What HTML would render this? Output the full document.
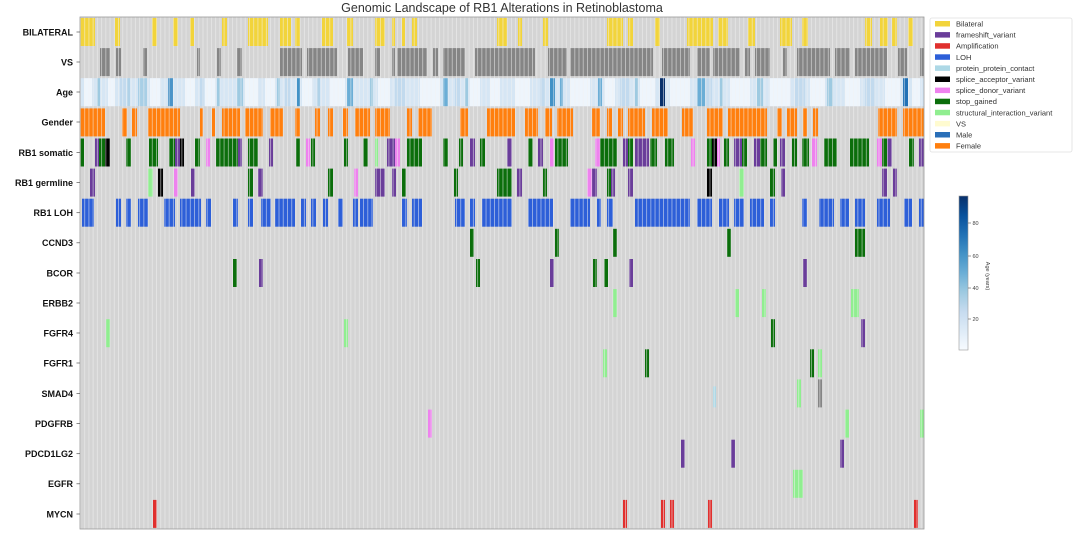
<!DOCTYPE html>
<html><head><meta charset="utf-8">
<style>
html,body{margin:0;padding:0;background:#fff;}
svg{display:block;font-family:"Liberation Sans",sans-serif;}
.y{fill:#f2d43b}.v{fill:#858585}.o{fill:#ff7f0e}.g{fill:#0b6e0b}.p{fill:#6a3d9a}.k{fill:#000}.pk{fill:#ee82ee}.lg{fill:#90ee90}.b{fill:#2d5fd8}.r{fill:#e0302e}.lb{fill:#add8e6}
.lab{font-size:9px;font-weight:bold;fill:#111;text-anchor:end}
.leg{font-size:7.5px;fill:#333}
</style></head><body>
<svg width="1080" height="540" viewBox="0 0 1080 540" xmlns="http://www.w3.org/2000/svg">
<defs>
<pattern id="grid" x="80" y="0" width="4.225" height="540" patternUnits="userSpaceOnUse">
<rect x="0" y="0" width="0.9" height="540" fill="#f2f2f2"/>
</pattern>
<linearGradient id="blues" x1="0" y1="1" x2="0" y2="0">
<stop offset="0" stop-color="#f7fbff"/><stop offset=".125" stop-color="#deebf7"/><stop offset=".25" stop-color="#c6dbef"/><stop offset=".375" stop-color="#9ecae1"/><stop offset=".5" stop-color="#6baed6"/><stop offset=".625" stop-color="#4292c6"/><stop offset=".75" stop-color="#2171b5"/><stop offset=".875" stop-color="#08519c"/><stop offset="1" stop-color="#08306b"/>
</linearGradient>
</defs>
<rect width="1080" height="540" fill="#fff"/>
<text x="502" y="12" font-size="12.5" fill="#333" text-anchor="middle">Genomic Landscape of RB1 Alterations in Retinoblastoma</text>
<rect x="80" y="17" width="844" height="512" fill="#d4d4d4"/>

<!-- Row 0 BILATERAL -->
<g transform="translate(0,17)" class="y">
<rect x="80" y="1" width="15" height="28"/><rect x="115" y="1" width="5" height="28"/><rect x="152" y="1" width="5" height="28"/><rect x="173" y="1" width="5" height="28"/><rect x="190" y="1" width="4" height="28"/><rect x="222" y="1" width="5" height="28"/><rect x="248" y="1" width="20" height="28"/><rect x="280" y="1" width="11" height="28"/><rect x="295" y="1" width="5" height="28"/><rect x="322" y="1" width="11" height="28"/><rect x="347" y="1" width="6" height="28"/><rect x="375" y="1" width="10" height="28"/><rect x="392" y="1" width="3" height="28"/><rect x="402" y="1" width="3" height="28"/><rect x="412" y="1" width="5" height="28"/><rect x="497" y="1" width="10" height="28"/><rect x="518" y="1" width="4" height="28"/><rect x="543" y="1" width="5" height="28"/><rect x="607" y="1" width="16" height="28"/><rect x="628" y="1" width="5" height="28"/><rect x="655" y="1" width="5" height="28"/><rect x="687" y="1" width="26" height="28"/><rect x="718" y="1" width="10" height="28"/><rect x="748" y="1" width="7" height="28"/><rect x="780" y="1" width="12" height="28"/><rect x="802" y="1" width="6" height="28"/><rect x="865" y="1" width="7" height="28"/><rect x="880" y="1" width="8" height="28"/><rect x="892" y="1" width="5" height="28"/><rect x="908" y="1" width="5" height="28"/>
</g>
<!-- Row 1 VS -->
<g transform="translate(0,47.1)" class="v">
<rect x="100" y="1" width="10" height="28"/><rect x="116" y="1" width="5" height="28"/><rect x="143" y="1" width="4" height="28"/><rect x="197" y="1" width="3" height="28"/><rect x="217" y="1" width="4" height="28"/><rect x="237" y="1" width="5" height="28"/><rect x="280" y="1" width="22" height="28"/><rect x="307" y="1" width="30" height="28"/><rect x="348" y="1" width="15" height="28"/><rect x="375" y="1" width="5" height="28"/><rect x="392" y="1" width="3" height="28"/><rect x="397" y="1" width="30" height="28"/><rect x="433" y="1" width="5" height="28"/><rect x="443" y="1" width="22" height="28"/><rect x="475" y="1" width="60" height="28"/><rect x="548" y="1" width="19" height="28"/><rect x="570" y="1" width="83" height="28"/><rect x="662" y="1" width="28" height="28"/><rect x="697" y="1" width="13" height="28"/><rect x="713" y="1" width="27" height="28"/><rect x="745" y="1" width="5" height="28"/><rect x="755" y="1" width="15" height="28"/><rect x="783" y="1" width="4" height="28"/><rect x="797" y="1" width="33" height="28"/><rect x="835" y="1" width="15" height="28"/><rect x="855" y="1" width="32" height="28"/><rect x="898" y="1" width="9" height="28"/><rect x="920" y="1" width="4" height="28"/>
</g>
<!-- Row 2 Age -->
<g transform="translate(0,77.2)">
<rect x="80" y="1" width="844" height="28" fill="#d6e6f4"/>
<g fill="#eef5fc">
<rect x="84" y="1" width="8" height="28"/><rect x="108" y="1" width="7" height="28"/><rect x="150" y="1" width="10" height="28"/><rect x="185" y="1" width="10" height="28"/><rect x="205" y="1" width="10" height="28"/><rect x="245" y="1" width="13" height="28"/><rect x="265" y="1" width="10" height="28"/><rect x="302" y="1" width="10" height="28"/><rect x="330" y="1" width="15" height="28"/><rect x="378" y="1" width="12" height="28"/><rect x="420" y="1" width="20" height="28"/><rect x="470" y="1" width="10" height="28"/><rect x="490" y="1" width="10" height="28"/><rect x="515" y="1" width="15" height="28"/><rect x="570" y="1" width="20" height="28"/><rect x="605" y="1" width="10" height="28"/><rect x="640" y="1" width="15" height="28"/><rect x="670" y="1" width="20" height="28"/><rect x="730" y="1" width="20" height="28"/><rect x="770" y="1" width="20" height="28"/><rect x="810" y="1" width="15" height="28"/><rect x="845" y="1" width="15" height="28"/><rect x="885" y="1" width="15" height="28"/><rect x="912" y="1" width="8" height="28"/>
</g>
<g fill="#c2daee">
<rect x="120" y="1" width="6" height="28"/><rect x="200" y="1" width="4" height="28"/><rect x="285" y="1" width="5" height="28"/><rect x="395" y="1" width="10" height="28"/><rect x="455" y="1" width="5" height="28"/><rect x="540" y="1" width="5" height="28"/><rect x="620" y="1" width="10" height="28"/><rect x="705" y="1" width="7" height="28"/><rect x="795" y="1" width="10" height="28"/><rect x="865" y="1" width="10" height="28"/>
</g>
<rect x="97" y="1" width="3" height="28" fill="#9ecae1"/><rect x="127" y="1" width="3" height="28" fill="#b0d2e8"/><rect x="138" y="1" width="9" height="28" fill="#a8cfe6"/><rect x="168" y="1" width="5" height="28" fill="#4a94c8"/><rect x="217" y="1" width="3" height="28" fill="#9ecae1"/><rect x="237" y="1" width="6" height="28" fill="#9ecae1"/><rect x="277" y="1" width="3" height="28" fill="#9ecae1"/><rect x="297" y="1" width="3" height="28" fill="#4292c6"/><rect x="317" y="1" width="3" height="28" fill="#b0d2e8"/><rect x="347" y="1" width="6" height="28" fill="#6baed6"/><rect x="370" y="1" width="3" height="28" fill="#9ecae1"/><rect x="443" y="1" width="5" height="28" fill="#6baed6"/><rect x="465" y="1" width="3" height="28" fill="#9ecae1"/><rect x="550" y="1" width="5" height="28" fill="#4292c6"/><rect x="560" y="1" width="3" height="28" fill="#6baed6"/><rect x="598" y="1" width="4" height="28" fill="#6baed6"/><rect x="635" y="1" width="3" height="28" fill="#9ecae1"/><rect x="660" y="1" width="5" height="28" fill="#08306b"/><rect x="697" y="1" width="8" height="28" fill="#6baed6"/><rect x="720" y="1" width="3" height="28" fill="#9ecae1"/><rect x="757" y="1" width="6" height="28" fill="#9ecae1"/><rect x="827" y="1" width="6" height="28" fill="#9ecae1"/><rect x="903" y="1" width="5" height="28" fill="#2171b5"/>
</g>
<!-- Row 3 Gender -->
<g transform="translate(0,107.4)" class="o">
<rect x="80" y="1" width="25" height="28"/><rect x="122" y="1" width="5" height="28"/><rect x="132" y="1" width="5" height="28"/><rect x="148" y="1" width="32" height="28"/><rect x="200" y="1" width="3" height="28"/><rect x="212" y="1" width="3" height="28"/><rect x="222" y="1" width="18" height="28"/><rect x="245" y="1" width="18" height="28"/><rect x="270" y="1" width="13" height="28"/><rect x="295" y="1" width="5" height="28"/><rect x="315" y="1" width="5" height="28"/><rect x="328" y="1" width="5" height="28"/><rect x="343" y="1" width="5" height="28"/><rect x="355" y="1" width="15" height="28"/><rect x="375" y="1" width="15" height="28"/><rect x="407" y="1" width="5" height="28"/><rect x="418" y="1" width="14" height="28"/><rect x="460" y="1" width="8" height="28"/><rect x="487" y="1" width="28" height="28"/><rect x="525" y="1" width="13" height="28"/><rect x="545" y="1" width="7" height="28"/><rect x="557" y="1" width="16" height="28"/><rect x="592" y="1" width="8" height="28"/><rect x="607" y="1" width="5" height="28"/><rect x="618" y="1" width="5" height="28"/><rect x="628" y="1" width="17" height="28"/><rect x="652" y="1" width="16" height="28"/><rect x="682" y="1" width="11" height="28"/><rect x="707" y="1" width="16" height="28"/><rect x="728" y="1" width="39" height="28"/><rect x="777" y="1" width="5" height="28"/><rect x="787" y="1" width="10" height="28"/><rect x="803" y="1" width="4" height="28"/><rect x="813" y="1" width="5" height="28"/><rect x="878" y="1" width="19" height="28"/><rect x="903" y="1" width="21" height="28"/>
</g>
<!-- Row 4 RB1 somatic -->
<g transform="translate(0,137.5)">
<rect class="g" x="80" y="1" width="4" height="28"/><rect class="p" x="95" y="1" width="4" height="28"/><rect class="g" x="99" y="1" width="6" height="28"/><rect class="k" x="105" y="1" width="5" height="28"/><rect class="g" x="126" y="1" width="5" height="28"/><rect class="g" x="149" y="1" width="9" height="28"/><rect class="g" x="169" y="1" width="6" height="28"/><rect class="p" x="175" y="1" width="5" height="28"/><rect class="k" x="180" y="1" width="4" height="28"/><rect class="g" x="195" y="1" width="5" height="28"/><rect class="pk" x="206" y="1" width="4" height="28"/><rect class="g" x="216" y="1" width="22" height="28"/><rect class="p" x="238" y="1" width="4" height="28"/><rect class="g" x="248" y="1" width="10" height="28"/><rect class="p" x="269" y="1" width="4" height="28"/><rect class="g" x="296" y="1" width="4" height="28"/><rect class="pk" x="306" y="1" width="4" height="28"/><rect class="g" x="311" y="1" width="4" height="28"/><rect class="g" x="344" y="1" width="4" height="28"/><rect class="g" x="363" y="1" width="5" height="28"/><rect class="lg" x="375" y="1" width="3" height="28"/><rect class="p" x="387" y="1" width="8" height="28"/><rect class="pk" x="395" y="1" width="5" height="28"/><rect class="g" x="407" y="1" width="15" height="28"/><rect class="g" x="443" y="1" width="5" height="28"/><rect class="g" x="459" y="1" width="4" height="28"/><rect class="p" x="470" y="1" width="5" height="28"/><rect class="g" x="480" y="1" width="5" height="28"/><rect class="p" x="507" y="1" width="5" height="28"/><rect class="g" x="528" y="1" width="5" height="28"/><rect class="p" x="538" y="1" width="5" height="28"/><rect class="pk" x="550" y="1" width="4" height="28"/><rect class="g" x="555" y="1" width="13" height="28"/><rect class="pk" x="595" y="1" width="5" height="28"/><rect class="g" x="600" y="1" width="17" height="28"/><rect class="p" x="623" y="1" width="5" height="28"/><rect class="g" x="628" y="1" width="5" height="28"/><rect class="p" x="635" y="1" width="14" height="28"/><rect class="g" x="650" y="1" width="7" height="28"/><rect class="g" x="665" y="1" width="9" height="28"/><rect class="pk" x="691" y="1" width="4" height="28"/><rect class="g" x="707" y="1" width="5" height="28"/><rect class="k" x="712" y="1" width="5" height="28"/><rect class="pk" x="717" y="1" width="3" height="28"/><rect class="g" x="724" y="1" width="5" height="28"/><rect class="p" x="734" y="1" width="8" height="28"/><rect class="g" x="742" y="1" width="5" height="28"/><rect class="p" x="754" y="1" width="6" height="28"/><rect class="g" x="760" y="1" width="7" height="28"/><rect class="g" x="773" y="1" width="4" height="28"/><rect class="p" x="780" y="1" width="5" height="28"/><rect class="g" x="792" y="1" width="5" height="28"/><rect class="g" x="802" y="1" width="7" height="28"/><rect class="pk" x="812" y="1" width="5" height="28"/><rect class="g" x="824" y="1" width="13" height="28"/><rect class="g" x="850" y="1" width="19" height="28"/><rect class="pk" x="877" y="1" width="5" height="28"/><rect class="g" x="882" y="1" width="5" height="28"/><rect class="p" x="887" y="1" width="5" height="28"/><rect class="g" x="909" y="1" width="5" height="28"/><rect class="p" x="919" y="1" width="5" height="28"/>
</g>
<!-- Row 5 RB1 germline -->
<g transform="translate(0,167.6)">
<rect class="p" x="90" y="1" width="5" height="28"/><rect class="lg" x="148" y="1" width="5" height="28"/><rect class="k" x="158" y="1" width="5" height="28"/><rect class="pk" x="174" y="1" width="4" height="28"/><rect class="p" x="191" y="1" width="4" height="28"/><rect class="g" x="248" y="1" width="5" height="28"/><rect class="p" x="258" y="1" width="5" height="28"/><rect class="g" x="328" y="1" width="5" height="28"/><rect class="pk" x="354" y="1" width="4" height="28"/><rect class="p" x="375" y="1" width="10" height="28"/><rect class="p" x="392" y="1" width="4" height="28"/><rect class="g" x="402" y="1" width="4" height="28"/><rect class="g" x="454" y="1" width="4" height="28"/><rect class="g" x="497" y="1" width="15" height="28"/><rect class="p" x="517" y="1" width="5" height="28"/><rect class="g" x="543" y="1" width="4" height="28"/><rect class="pk" x="587" y="1" width="5" height="28"/><rect class="p" x="592" y="1" width="5" height="28"/><rect class="g" x="607" y="1" width="4" height="28"/><rect class="p" x="611" y="1" width="4" height="28"/><rect class="p" x="628" y="1" width="5" height="28"/><rect class="k" x="707" y="1" width="5" height="28"/><rect class="lg" x="739" y="1" width="5" height="28"/><rect class="g" x="770" y="1" width="5" height="28"/><rect class="p" x="781" y="1" width="4" height="28"/><rect class="p" x="882" y="1" width="5" height="28"/><rect class="p" x="893" y="1" width="4" height="28"/>
</g>
<!-- Row 6 RB1 LOH -->
<g transform="translate(0,197.7)" class="b">
<rect x="82" y="1" width="12" height="28"/><rect x="116" y="1" width="5" height="28"/><rect x="126" y="1" width="5" height="28"/><rect x="138" y="1" width="10" height="28"/><rect x="164" y="1" width="11" height="28"/><rect x="180" y="1" width="21" height="28"/><rect x="206" y="1" width="5" height="28"/><rect x="233" y="1" width="5" height="28"/><rect x="248" y="1" width="5" height="28"/><rect x="261" y="1" width="10" height="28"/><rect x="275" y="1" width="20" height="28"/><rect x="301" y="1" width="5" height="28"/><rect x="311" y="1" width="5" height="28"/><rect x="323" y="1" width="5" height="28"/><rect x="338" y="1" width="5" height="28"/><rect x="353" y="1" width="5" height="28"/><rect x="360" y="1" width="13" height="28"/><rect x="402" y="1" width="5" height="28"/><rect x="412" y="1" width="10" height="28"/><rect x="455" y="1" width="10" height="28"/><rect x="470" y="1" width="5" height="28"/><rect x="482" y="1" width="30" height="28"/><rect x="528" y="1" width="25" height="28"/><rect x="570" y="1" width="20" height="28"/><rect x="597" y="1" width="4" height="28"/><rect x="607" y="1" width="6" height="28"/><rect x="635" y="1" width="55" height="28"/><rect x="697" y="1" width="15" height="28"/><rect x="719" y="1" width="10" height="28"/><rect x="734" y="1" width="10" height="28"/><rect x="750" y="1" width="14" height="28"/><rect x="770" y="1" width="5" height="28"/><rect x="802" y="1" width="5" height="28"/><rect x="819" y="1" width="15" height="28"/><rect x="840" y="1" width="9" height="28"/><rect x="855" y="1" width="10" height="28"/><rect x="877" y="1" width="13" height="28"/><rect x="904" y="1" width="8" height="28"/><rect x="919" y="1" width="5" height="28"/>
</g>
<!-- Row 7 CCND3 -->
<g transform="translate(0,227.8)" class="g">
<rect x="470" y="1" width="4" height="28"/><rect x="555" y="1" width="4" height="28"/><rect x="613" y="1" width="4" height="28"/><rect x="727" y="1" width="4" height="28"/><rect x="855" y="1" width="10" height="28"/>
</g>
<!-- Row 8 BCOR -->
<g transform="translate(0,258)">
<rect class="g" x="233" y="1" width="4" height="28"/><rect class="p" x="259" y="1" width="4" height="28"/><rect class="g" x="476" y="1" width="4" height="28"/><rect class="p" x="550" y="1" width="4" height="28"/><rect class="g" x="593" y="1" width="4" height="28"/><rect class="g" x="604" y="1" width="4" height="28"/><rect class="p" x="629" y="1" width="4" height="28"/><rect class="p" x="803" y="1" width="4" height="28"/>
</g>
<!-- Row 9 ERBB2 -->
<g transform="translate(0,288.1)" class="lg">
<rect x="613" y="1" width="4" height="28"/><rect x="735" y="1" width="4" height="28"/><rect x="762" y="1" width="4" height="28"/><rect x="851" y="1" width="8" height="28"/>
</g>
<!-- Row 10 FGFR4 -->
<g transform="translate(0,318.2)">
<rect class="lg" x="106" y="1" width="4" height="28"/><rect class="lg" x="344" y="1" width="4" height="28"/><rect class="g" x="771" y="1" width="4" height="28"/><rect class="p" x="861" y="1" width="4" height="28"/>
</g>
<!-- Row 11 FGFR1 -->
<g transform="translate(0,348.3)">
<rect class="lg" x="603" y="1" width="4" height="28"/><rect class="g" x="645" y="1" width="4" height="28"/><rect class="g" x="810" y="1" width="4" height="28"/><rect class="lg" x="818" y="1" width="4" height="28"/>
</g>
<!-- Row 12 SMAD4 -->
<g transform="translate(0,378.4)">
<rect class="lb" x="713" y="8" width="3" height="21"/><rect class="lg" x="797" y="1" width="4" height="28"/><rect class="v" x="818" y="1" width="4" height="28"/>
</g>
<!-- Row 13 PDGFRB -->
<g transform="translate(0,408.6)">
<rect class="pk" x="428" y="1" width="4" height="28"/><rect class="lg" x="845" y="1" width="4" height="28"/><rect class="lg" x="920" y="1" width="4" height="28"/>
</g>
<!-- Row 14 PDCD1LG2 -->
<g transform="translate(0,438.7)" class="p">
<rect x="681" y="1" width="4" height="28"/><rect x="731" y="1" width="4" height="28"/><rect x="840" y="1" width="4" height="28"/>
</g>
<!-- Row 15 EGFR -->
<g transform="translate(0,468.8)" class="lg">
<rect x="793" y="1" width="10" height="28"/>
</g>
<!-- Row 16 MYCN -->
<g transform="translate(0,498.9)" class="r">
<rect x="153" y="1" width="4" height="28"/><rect x="623" y="1" width="4" height="28"/><rect x="661" y="1" width="4" height="28"/><rect x="670" y="1" width="4" height="28"/><rect x="708" y="1" width="4" height="28"/><rect x="914" y="1" width="4" height="28"/>
</g>

<rect x="80" y="17" width="844" height="512" fill="url(#grid)" opacity="0.55"/>
<rect x="80" y="17" width="844" height="512" fill="none" stroke="#9a9a9a" stroke-width="0.8"/>

<!-- row labels -->
<g class="lab">
<text x="73" y="35.5">BILATERAL</text>
<text x="73" y="65.5">VS</text>
<text x="73" y="95.5">Age</text>
<text x="73" y="125.5">Gender</text>
<text x="73" y="156">RB1 somatic</text>
<text x="73" y="186">RB1 germline</text>
<text x="73" y="216">RB1 LOH</text>
<text x="73" y="246">CCND3</text>
<text x="73" y="276.5">BCOR</text>
<text x="73" y="306.5">ERBB2</text>
<text x="73" y="336.5">FGFR4</text>
<text x="73" y="366.5">FGFR1</text>
<text x="73" y="397">SMAD4</text>
<text x="73" y="427">PDGFRB</text>
<text x="73" y="457">PDCD1LG2</text>
<text x="73" y="487">EGFR</text>
<text x="73" y="517.5">MYCN</text>
</g>
<g stroke="#555" stroke-width="0.7">
<line x1="76.5" y1="32" x2="80" y2="32"/><line x1="76.5" y1="62" x2="80" y2="62"/><line x1="76.5" y1="92" x2="80" y2="92"/><line x1="76.5" y1="122" x2="80" y2="122"/><line x1="76.5" y1="152.5" x2="80" y2="152.5"/><line x1="76.5" y1="182.6" x2="80" y2="182.6"/><line x1="76.5" y1="212.7" x2="80" y2="212.7"/><line x1="76.5" y1="242.8" x2="80" y2="242.8"/><line x1="76.5" y1="273" x2="80" y2="273"/><line x1="76.5" y1="303" x2="80" y2="303"/><line x1="76.5" y1="333" x2="80" y2="333"/><line x1="76.5" y1="363" x2="80" y2="363"/><line x1="76.5" y1="393.4" x2="80" y2="393.4"/><line x1="76.5" y1="423.6" x2="80" y2="423.6"/><line x1="76.5" y1="453.7" x2="80" y2="453.7"/><line x1="76.5" y1="483.8" x2="80" y2="483.8"/><line x1="76.5" y1="514" x2="80" y2="514"/>
</g>

<!-- legend -->
<rect x="930" y="18" width="142" height="134" fill="#fff" stroke="#e0e0e0" stroke-width="0.8" rx="2"/>
<g>
<rect x="935" y="21" width="15" height="5.5" fill="#f2d43b"/><text class="leg" x="956" y="26.5">Bilateral</text>
<rect x="935" y="32.1" width="15" height="5.5" fill="#6a3d9a"/><text class="leg" x="956" y="37.6">frameshift_variant</text>
<rect x="935" y="43.2" width="15" height="5.5" fill="#e0302e"/><text class="leg" x="956" y="48.7">Amplification</text>
<rect x="935" y="54.3" width="15" height="5.5" fill="#2d5fd8"/><text class="leg" x="956" y="59.8">LOH</text>
<rect x="935" y="65.4" width="15" height="5.5" fill="#add8e6"/><text class="leg" x="956" y="70.9">protein_protein_contact</text>
<rect x="935" y="76.5" width="15" height="5.5" fill="#000"/><text class="leg" x="956" y="82">splice_acceptor_variant</text>
<rect x="935" y="87.6" width="15" height="5.5" fill="#ee82ee"/><text class="leg" x="956" y="93.1">splice_donor_variant</text>
<rect x="935" y="98.7" width="15" height="5.5" fill="#0b6e0b"/><text class="leg" x="956" y="104.2">stop_gained</text>
<rect x="935" y="109.8" width="15" height="5.5" fill="#90ee90"/><text class="leg" x="956" y="115.3">structural_interaction_variant</text>
<rect x="935" y="120.9" width="15" height="5.5" fill="#fffbd0"/><text class="leg" x="956" y="126.4">VS</text>
<rect x="935" y="132" width="15" height="5.5" fill="#2a6fb8"/><text class="leg" x="956" y="137.5">Male</text>
<rect x="935" y="143.1" width="15" height="5.5" fill="#ff7f0e"/><text class="leg" x="956" y="148.6">Female</text>
</g>

<!-- colorbar -->
<rect x="959" y="196" width="9" height="154" fill="url(#blues)" stroke="#999" stroke-width="0.6"/>
<g stroke="#555" stroke-width="0.6">
<line x1="968" y1="223" x2="971" y2="223"/><line x1="968" y1="256" x2="971" y2="256"/><line x1="968" y1="288" x2="971" y2="288"/><line x1="968" y1="319" x2="971" y2="319"/>
</g>
<g font-size="5.5" fill="#444">
<text x="972.5" y="225">80</text><text x="972.5" y="258">60</text><text x="972.5" y="290">40</text><text x="972.5" y="321">20</text>
</g>
<text x="0" y="0" font-size="5.5" fill="#444" text-anchor="middle" transform="translate(986,276) rotate(90)">Age (years)</text>
</svg>
</body></html>
